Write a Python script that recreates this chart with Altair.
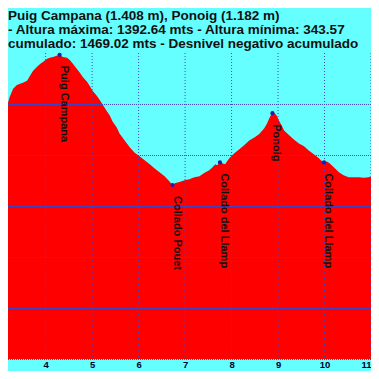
import altair as alt
import pandas as pd

# Elevation profile (km, metres)
km = [3.02, 3.09, 3.17, 3.23, 3.30, 3.38, 3.45, 3.51, 3.60, 3.66, 3.73, 3.81, 3.88, 3.94,
      4.03, 4.09, 4.16, 4.22, 4.30, 4.37, 4.46, 4.52, 4.59, 4.67, 4.74, 4.80, 4.89, 4.95,
      5.01, 5.10, 5.16, 5.23, 5.31, 5.38, 5.44, 5.53, 5.59, 5.70, 5.81, 5.91, 6.02, 6.13,
      6.24, 6.34, 6.45, 6.56, 6.66, 6.73, 6.79, 6.88, 6.99, 7.09, 7.20, 7.31, 7.41, 7.52,
      7.59, 7.65, 7.69, 7.75, 7.80, 7.86, 7.95, 8.06, 8.16, 8.27, 8.38, 8.49, 8.59, 8.70,
      8.76, 8.81, 8.85, 8.88, 8.94, 8.98, 9.02, 9.09, 9.13, 9.24, 9.34, 9.45, 9.56, 9.66,
      9.77, 9.88, 9.92, 9.99, 10.05, 10.11, 10.20, 10.31, 10.41, 10.52, 10.63, 10.74,
      10.84, 10.95, 11.04, 11.14]
elev = [1127, 1162, 1194, 1229, 1260, 1275, 1279, 1283, 1291, 1310, 1330, 1345, 1357, 1365,
        1377, 1381, 1384, 1388, 1393, 1384, 1381, 1373, 1357, 1338, 1322, 1306, 1287, 1271,
        1252, 1232, 1217, 1197, 1174, 1155, 1131, 1108, 1084, 1057, 1030, 1010, 995, 979,
        964, 948, 932, 917, 897, 882, 890, 894, 901, 905, 913, 917, 929, 940,
        952, 964, 960, 971, 968, 964, 987, 1007, 1022, 1038, 1057, 1069, 1081, 1104,
        1123, 1143, 1158, 1164, 1162, 1151, 1135, 1112, 1096, 1077, 1061, 1045, 1034, 1018,
        1003, 987, 979, 971, 975, 968, 952, 932, 921, 913, 913, 913,
        911, 913, 917, 909]

wp_names = ["Puig Campana", "Collado Pouet", "Collado del Llamp", "Ponoig", "Collado del Llamp"]
wp_km = [4.30, 6.73, 7.75, 8.88, 9.99]
wp_elev = [1393, 882, 971, 1164, 971]

title_lines = [
    "Puig Campana (1.408 m), Ponoig (1.182 m)",
    "- Altura máxima: 1392.64 mts - Altura mínima: 343.57",
    "cumulado: 1469.02 mts - Desnivel negativo acumulado",
]

x_ticks = [4, 5, 6, 7, 8, 9, 10, 11]
y_grid = [200, 400, 600, 800, 1000, 1200]
x_domain = [3.19, 11.0]
y_domain = [200, 1400]

FONT = "Liberation Sans"
CYAN = "#66FFFF"
GRID = "#4646C8"

prof = pd.DataFrame({"km": km, "elev": elev})
wp = pd.DataFrame({"name": wp_names, "km": wp_km, "elev": wp_elev})

xs = alt.Scale(domain=x_domain, nice=False, zero=False)
ys = alt.Scale(domain=y_domain, nice=False, zero=False)

x_axis = alt.Axis(values=x_ticks, format="d", title=None, domain=False, ticks=False, grid=False,
                  labelFontSize=9.5, labelFontWeight="bold", labelColor="#000033",
                  labelFont=FONT, labelPadding=0, labelFlush=True)

area = alt.Chart(prof).mark_area(color="#FF0000", clip=True, interpolate="linear").encode(
    x=alt.X("km:Q", scale=xs, axis=x_axis),
    y=alt.Y("elev:Q", scale=ys, axis=None),
)

vgrid = alt.Chart(pd.DataFrame({"v": x_ticks})).mark_rule(
    color=GRID, opacity=1, strokeDash=[1, 2], strokeWidth=1
).encode(x=alt.X("v:Q", scale=xs))

hgrid = alt.Chart(pd.DataFrame({"v": y_grid})).mark_rule(
    color=GRID, opacity=1, strokeDash=[1, 1], strokeWidth=1, yOffset=0.5
).encode(y=alt.Y("v:Q", scale=ys))

dots = alt.Chart(wp).mark_circle(size=18, color="#1E1EAA", opacity=1).encode(
    x=alt.X("km:Q", scale=xs),
    y=alt.Y("elev:Q", scale=ys),
)

labels = alt.Chart(wp).mark_text(angle=90, align="left", baseline="middle", dx=11, dy=-4,
                                 fontSize=11, fontWeight="bold", font=FONT, color="#111111").encode(
    x=alt.X("km:Q", scale=xs),
    y=alt.Y("elev:Q", scale=ys),
    text="name:N",
)

title_y = [-33, -19, -5]
title_layers = []
for line, ty in zip(title_lines, title_y):
    title_layers.append(
        alt.Chart(pd.DataFrame({"t": [line]})).mark_text(
            align="left", baseline="alphabetic", fontSize=13.5, fontWeight="bold",
            font=FONT, color="#111111"
        ).encode(x=alt.value(0), y=alt.value(ty), text="t:N")
    )

chart = alt.layer(area, vgrid, hgrid, dots, labels, *title_layers).properties(
    width=363, height=306,
    padding={"left": 0, "top": 45, "right": 0, "bottom": 12},
    autosize="none",
    background=CYAN,
).configure_view(stroke=None)

chart.save("out.html", embed_options={"renderer": "svg", "actions": False})
